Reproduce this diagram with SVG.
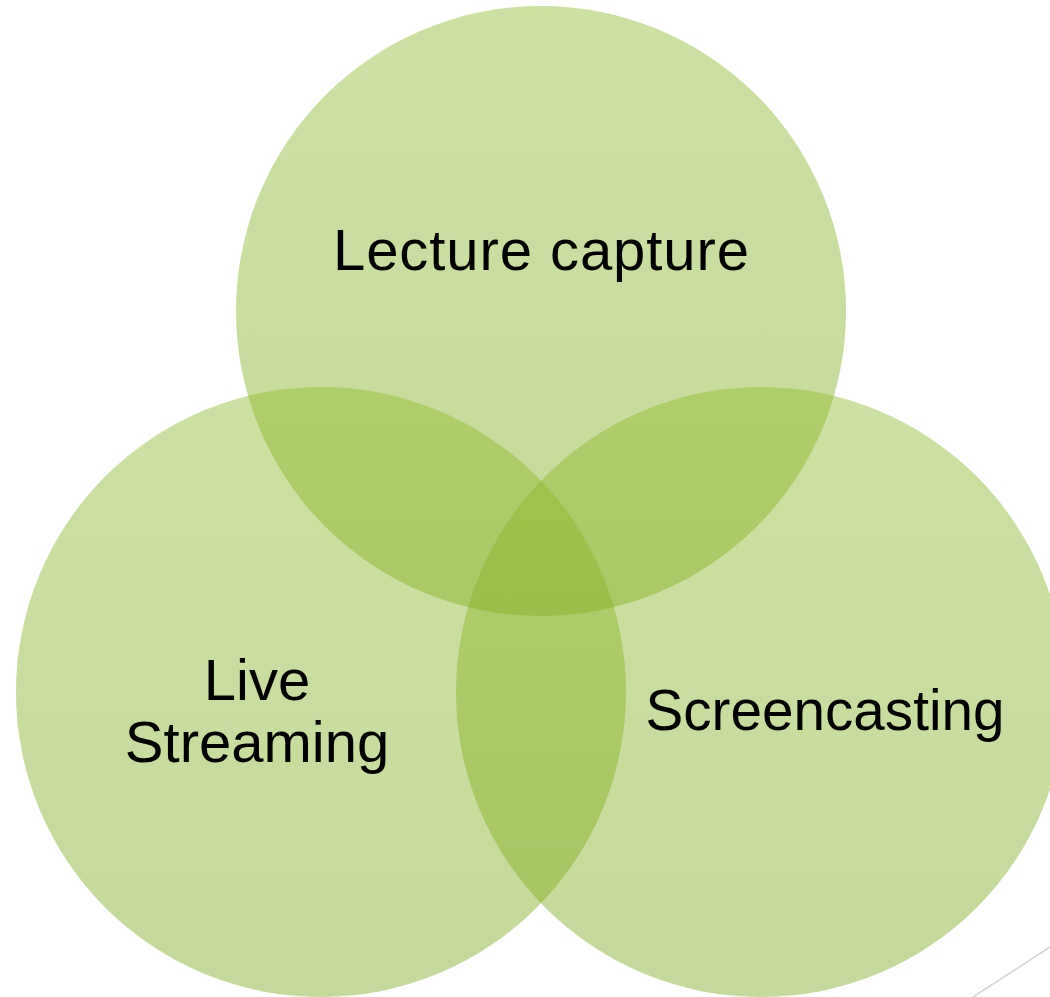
<svg xmlns="http://www.w3.org/2000/svg" width="1050" height="997" viewBox="0 0 1050 997">
  <defs>
    <linearGradient id="g" x1="0" y1="0" x2="0" y2="1">
      <stop offset="0" stop-color="#8cbc2a"/>
      <stop offset="1" stop-color="#7aa81a"/>
    </linearGradient>
    <style>
      .c { fill: url(#g); fill-opacity: 0.44; }
      .t { font-family: "Liberation Sans", Arial, sans-serif; font-size: 58px; fill: #000; text-anchor: middle; }
    </style>
  </defs>
  <rect width="1050" height="997" fill="#ffffff"/>
  <line x1="973" y1="997" x2="1050" y2="947" stroke="#d4d4d4" stroke-width="1.5"/>
  <g id="lecture-capture">
    <circle class="c" cx="541" cy="311" r="305"/>
  </g>
  <g id="live-streaming">
    <circle class="c" cx="321" cy="692" r="305"/>
  </g>
  <g id="screencasting">
    <circle class="c" cx="761" cy="692" r="305"/>
  </g>
  <g id="labels">
    <text class="t" x="541" y="270" textLength="416" lengthAdjust="spacing">Lecture capture</text>
    <text class="t" x="257" y="700">Live</text>
    <text class="t" x="257" y="762">Streaming</text>
    <text class="t" x="825" y="730" textLength="359" lengthAdjust="spacingAndGlyphs">Screencasting</text>
  </g>
  <g id="connectors"></g>
</svg>
